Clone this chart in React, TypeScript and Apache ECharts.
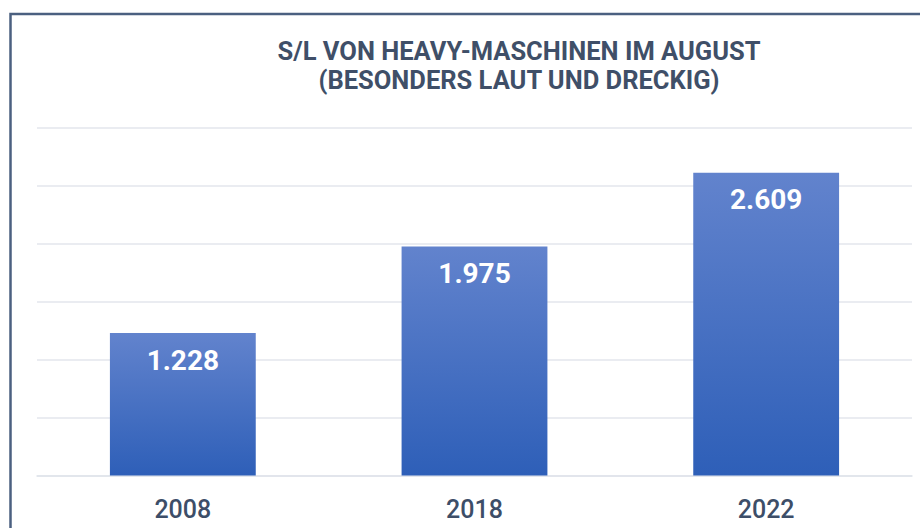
import React, { useEffect, useRef } from "react";
import * as echarts from "echarts";

const categories = ["2008", "2018", "2022"];
const values = [1228, 1975, 2609];
const titleLines = ["S/L VON HEAVY-MASCHINEN IM AUGUST", "(BESONDERS LAUT UND DRECKIG)"];

const fmt = (v: number) => (v / 1000).toFixed(3);

export default function App() {
  const ref = useRef<HTMLDivElement>(null);
  useEffect(() => {
    const chart = echarts.init(ref.current!, null, { renderer: "svg" });
    chart.setOption({
      animation: false,
      backgroundColor: "#ffffff",
      title: {
        text: titleLines.join("\n"),
        left: 514,
        top: 32,
        textAlign: "center",
        textStyle: {
          fontFamily: "Roboto",
          fontWeight: "bold",
          fontSize: 25.5,
          lineHeight: 28.5,
          color: "#3f4f68",
        },
      },
      graphic: [
        {
          type: "rect",
          shape: { x: 10.5, y: 14, width: 1000, height: 700 },
          style: { fill: "none", stroke: "#4b6080", lineWidth: 2.5 },
          silent: true,
        },
      ],
      grid: { left: 37, right: 8, top: 127.5, bottom: 52.5 },
      xAxis: {
        type: "category",
        data: categories,
        axisLine: { show: true, lineStyle: { color: "#dfe3ea", width: 1.5 } },
        axisTick: { show: false },
        axisLabel: {
          fontFamily: "Roboto",
          fontWeight: 500,
          fontSize: 25,
          color: "#3d4e68",
          margin: 21,
        },
      },
      yAxis: {
        type: "value",
        min: 0,
        max: 3000,
        interval: 500,
        axisLabel: { show: false },
        axisLine: { show: false },
        axisTick: { show: false },
        splitLine: { lineStyle: { color: "#e3e6ed", width: 1.5 } },
      },
      series: [
        {
          type: "bar",
          data: values,
          barWidth: "50%",
          itemStyle: {
            color: new echarts.graphic.LinearGradient(0, 0, 0, 1, [
              { offset: 0, color: "#6283cd" },
              { offset: 1, color: "#2e5fb8" },
            ]),
          },
          label: {
            show: true,
            position: "insideTop",
            distance: 13,
            formatter: (p: any) => fmt(p.value),
            fontFamily: "Roboto",
            fontWeight: "bold",
            fontSize: 28,
            color: "#ffffff",
          },
        },
      ],
    });
    return () => chart.dispose();
  }, []);
  return (
    <div
      ref={ref}
      style={{ position: "absolute", left: 0, top: 0, width: 920, height: 528 }}
    />
  );
}
